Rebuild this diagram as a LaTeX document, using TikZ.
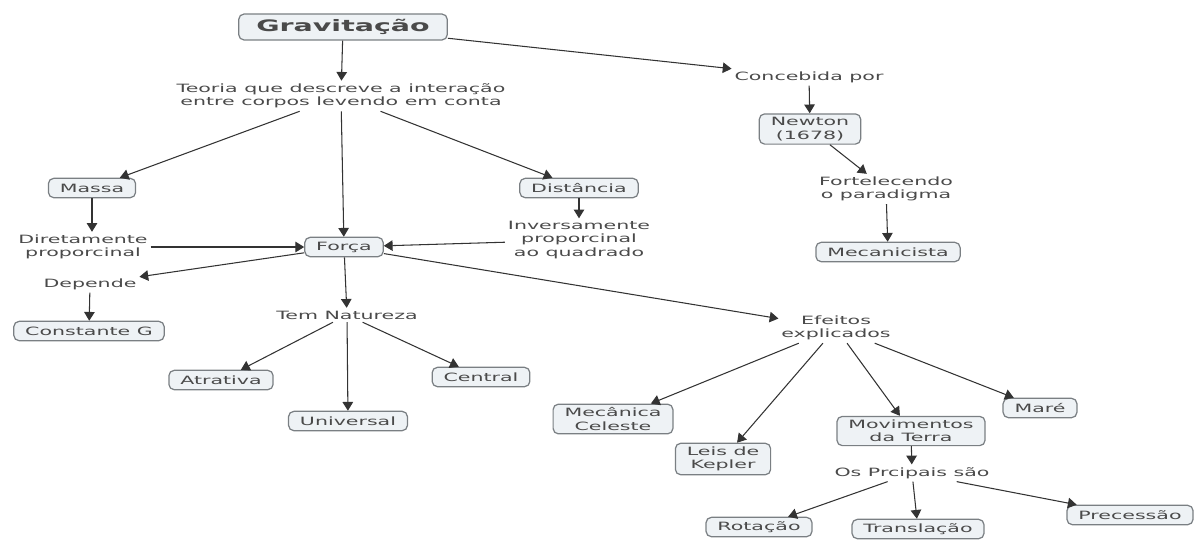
\documentclass[tikz,border=0pt]{standalone}
\usepackage{fontspec}
\setmainfont{DejaVu Sans}[FakeStretch=1.8]
\usetikzlibrary{arrows.meta}
\definecolor{conceptfill}{HTML}{EEF2F5}
\definecolor{conceptline}{HTML}{7A7F83}
\definecolor{concepttext}{HTML}{4A4A4A}
\tikzset{
  concept/.style={draw=conceptline, fill=conceptfill, rounded corners=3pt, line width=0.7pt,
    inner xsep=6.5pt, inner ysep=2pt, minimum height=11pt, align=center,
    text=concepttext, font=\fontsize{6.5}{7.6}\selectfont},
  linkword/.style={inner sep=1.5pt, align=center, text=concepttext,
    font=\fontsize{6.5}{7.6}\selectfont},
  arr/.style={draw=black!80, line width=0.6pt, -{Triangle[length=5pt,width=6pt]}}
}
\begin{document}
\begin{tikzpicture}[x=0.02cm, y=-0.02cm, line join=round]
  \useasboundingbox (0,0) rectangle (1199,539);
  % concepts and linking phrases
  \node[concept, font=\fontsize{9}{10}\selectfont\bfseries, inner xsep=10pt, inner ysep=3pt] (grav) at (343,27) {Gravitação};
  \node[linkword] (teoria) at (341,96) {Teoria que descreve a interação\\entre corpos levendo em conta};
  \node[linkword] (concebida) at (809,77) {Concebida por};
  \node[concept] (newton) at (810,129) {Newton\\(1678)};
  \node[linkword] (fort) at (886,189) {Fortelecendo\\o paradigma};
  \node[concept] (mecan) at (888,252) {Mecanicista};
  \node[concept] (massa) at (92,188) {Massa};
  \node[concept] (dist) at (579,188) {Distância};
  \node[linkword] (diret) at (83,247) {Diretamente\\proporcinal};
  \node[concept] (forca) at (344,247) {Força};
  \node[linkword] (invers) at (579,240) {Inversamente\\proporcinal\\ao quadrado};
  \node[linkword] (depende) at (90,284) {Depende};
  \node[concept] (constG) at (89,331) {Constante G};
  \node[linkword] (natureza) at (347,315) {Tem Natureza};
  \node[concept] (atrativa) at (221,380) {Atrativa};
  \node[concept] (central) at (481,377) {Central};
  \node[concept] (universal) at (348,421) {Universal};
  \node[linkword] (efeitos) at (836,328) {Efeitos\\explicados};
  \node[concept] (celeste) at (613,419) {Mecânica\\Celeste};
  \node[concept] (kepler) at (723,459) {Leis de\\Kepler};
  \node[concept] (movim) at (911,431) {Movimentos\\da Terra};
  \node[concept] (mare) at (1040,408) {Maré};
  \node[linkword] (principais) at (912,473) {Os Prcipais são};
  \node[concept] (rotacao) at (759,527) {Rotação};
  \node[concept] (translacao) at (918,529) {Translação};
  \node[concept] (precessao) at (1130,515) {Precessão};
  % connectors
  \draw[arr] (grav) -- (teoria);
  \draw[arr] (grav) -- (concebida);
  \draw[arr] (concebida) -- (newton);
  \draw[arr] (newton) -- (fort);
  \draw[arr] (fort) -- (mecan);
  \foreach \t in {massa, forca, dist}
    \draw[arr] (teoria) -- (\t);
  \draw[arr] (massa) -- (massa |- diret.north);
  \draw[arr] (diret) -- (forca);
  \draw[arr] (dist) -- (invers);
  \draw[arr] (invers) -- (forca);
  \draw[arr] (forca) -- (depende);
  \draw[arr] (depende) -- (constG);
  \draw[arr] (forca) -- (natureza);
  \draw[arr] (forca) -- (efeitos);
  \foreach \t in {atrativa, universal, central}
    \draw[arr] (natureza) -- (\t);
  \foreach \t in {celeste, kepler, movim, mare}
    \draw[arr] (efeitos) -- (\t);
  \draw[arr] (movim) -- (principais);
  \foreach \t in {rotacao, translacao, precessao}
    \draw[arr] (principais) -- (\t);
\end{tikzpicture}
\end{document}
